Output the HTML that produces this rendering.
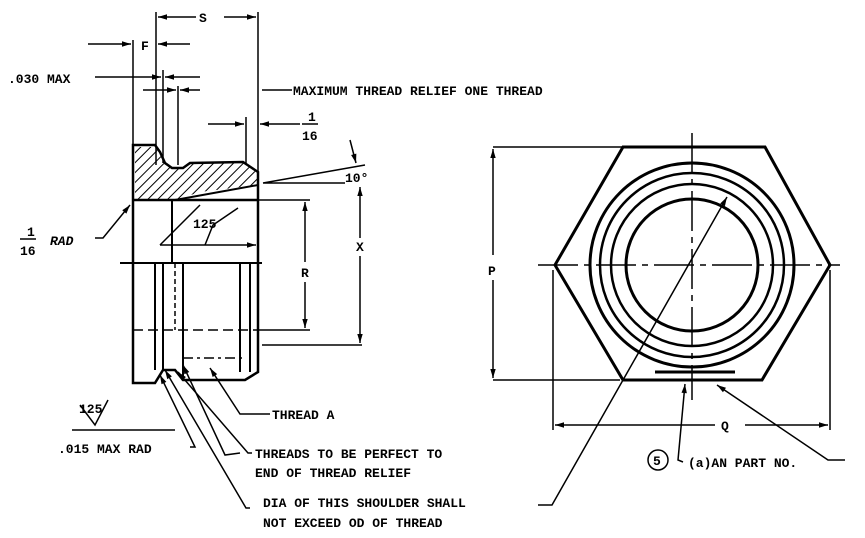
<!DOCTYPE html>
<html><head><meta charset="utf-8"><style>
html,body{margin:0;padding:0;background:#fff;}
svg{display:block}
text{font-family:"Liberation Mono",monospace;font-weight:bold;font-size:13px;fill:#000}
</style></head><body>
<svg width="865" height="538" viewBox="0 0 865 538" xmlns="http://www.w3.org/2000/svg">
<defs>
<pattern id="h" width="7" height="7" patternUnits="userSpaceOnUse" patternTransform="rotate(45)">
<line x1="0" y1="0" x2="0" y2="7" stroke="#000" stroke-width="2"/></pattern>
<marker id="a" viewBox="0 0 10 10" refX="10" refY="5" markerWidth="8" markerHeight="6" orient="auto-start-reverse"><path d="M0,2 L10,5 L0,8z" fill="#000"/></marker>
</defs>
<g fill="none" stroke="#000" stroke-width="1.5">
<!-- S dim -->
<line x1="156" y1="12" x2="156" y2="165"/><line x1="258" y1="12" x2="258" y2="172"/>
<line x1="158" y1="17" x2="196" y2="17" marker-start="url(#a)"/><line x1="224" y1="17" x2="256" y2="17" marker-end="url(#a)"/>
<!-- F -->
<line x1="133" y1="40" x2="133" y2="145"/>
<line x1="88" y1="44" x2="131" y2="44" marker-end="url(#a)"/><line x1="158" y1="44" x2="190" y2="44" marker-start="url(#a)"/>
<!-- .030 -->
<line x1="163" y1="70" x2="163" y2="163"/><line x1="178" y1="86" x2="178" y2="165"/>
<line x1="95" y1="77" x2="161" y2="77" marker-end="url(#a)"/><line x1="165" y1="77" x2="200" y2="77" marker-start="url(#a)"/>
<!-- max thread relief -->
<line x1="143" y1="90" x2="176" y2="90" marker-end="url(#a)"/><line x1="180" y1="90" x2="200" y2="90" marker-start="url(#a)"/>
<line x1="262" y1="90" x2="292" y2="90"/>
<!-- 1/16 -->
<line x1="246" y1="117" x2="246" y2="165"/>
<line x1="208" y1="124" x2="244" y2="124" marker-end="url(#a)"/><line x1="300" y1="124" x2="260" y2="124" marker-end="url(#a)"/>
<!-- body -->
<path d="M133,145 L155,145 L160,152 L165,163 L172,168 L183,168 L190,163 L243,162 L258,172 L258,372 L245,380 L183,380 L175,370 L163,370 L155,383 L133,383 Z" stroke-width="2.5"/>
<path d="M135,147 L155,147 L165,163 L172,168 L183,168 L190,163 L243,163 L257,173 L257,185 L200,192 L175,200 L135,200 Z" fill="url(#h)" stroke="none"/>
<line x1="133" y1="200" x2="258" y2="200" stroke-width="2.5"/>
<line x1="175" y1="200" x2="258" y2="185" stroke-width="2"/>
<line x1="172" y1="200" x2="172" y2="263" stroke-width="2"/>
<line x1="160" y1="245" x2="256" y2="245" marker-end="url(#a)"/>
<path d="M160,245 L200,205 M205,245 L213,225 L238,208"/>
<line x1="120" y1="263" x2="262" y2="263" stroke-width="2"/>
<line x1="155" y1="263" x2="155" y2="370" stroke-width="2"/>
<line x1="163" y1="263" x2="163" y2="370" stroke-width="2"/>
<line x1="175" y1="263" x2="175" y2="330" stroke-dasharray="5,3"/>
<line x1="183" y1="263" x2="183" y2="380" stroke-width="2"/>
<line x1="240" y1="263" x2="240" y2="372" stroke-width="2"/>
<line x1="250" y1="263" x2="250" y2="372" stroke-width="2"/>
<line x1="133" y1="330" x2="258" y2="330" stroke-dasharray="10,5"/>
<line x1="183" y1="358" x2="245" y2="358" stroke-dasharray="10,4,3,4"/>
<!-- R X -->
<line x1="258" y1="200" x2="310" y2="200"/><line x1="258" y1="330" x2="310" y2="330"/>
<line x1="305" y1="202" x2="305" y2="262" marker-start="url(#a)"/><line x1="305" y1="282" x2="305" y2="328" marker-end="url(#a)"/>
<line x1="262" y1="345" x2="362" y2="345"/>
<line x1="360" y1="187" x2="360" y2="238" marker-start="url(#a)"/><line x1="360" y1="256" x2="360" y2="343" marker-end="url(#a)"/>
<!-- 10deg -->
<path d="M263,183 L365,165 M263,183 L345,183"/>
<line x1="350" y1="140" x2="356" y2="163" marker-end="url(#a)"/>
<!-- 1/16 rad leader -->
<path d="M95,238 L103,238 L130,205" marker-end="url(#a)"/>
<!-- lower leaders -->
<path d="M72,430 L175,430"/>
<path d="M80,405 L95,425 L108,400"/>
<path d="M190,447 L195,447 L160,375" marker-end="url(#a)"/>
<path d="M250,508 L246,508 L165,370" marker-end="url(#a)"/>
<path d="M252,453 L248,453 L178,372" marker-end="url(#a)"/>
<path d="M270,414 L240,414 L210,368" marker-end="url(#a)"/>
<path d="M240,453 L225,455 L183,365" marker-end="url(#a)"/>
<!-- right view -->
<polygon points="623,147 765,147 830,265 762,380 623,380 555,265" stroke-width="3"/>
<circle cx="692" cy="265" r="102" stroke-width="3"/>
<circle cx="692" cy="265" r="92" stroke-width="2.5"/>
<circle cx="692" cy="265" r="81" stroke-width="2.5"/>
<circle cx="692" cy="265" r="66" stroke-width="3"/>
<line x1="538" y1="265" x2="840" y2="265" stroke-dasharray="40,6,6,6"/>
<line x1="692" y1="133" x2="692" y2="400" stroke-dasharray="40,6,6,6"/>
<line x1="493" y1="147" x2="623" y2="147"/><line x1="493" y1="380" x2="620" y2="380"/>
<line x1="493" y1="149" x2="493" y2="255" marker-start="url(#a)"/><line x1="493" y1="280" x2="493" y2="378" marker-end="url(#a)"/>
<line x1="553" y1="270" x2="553" y2="430"/><line x1="830" y1="270" x2="830" y2="430"/>
<line x1="555" y1="425" x2="715" y2="425" marker-start="url(#a)"/><line x1="745" y1="425" x2="828" y2="425" marker-end="url(#a)"/>
<path d="M538,505 L552,505 L727,197" marker-end="url(#a)"/>
<line x1="655" y1="372" x2="735" y2="372" stroke-width="3"/>
<path d="M683,462 L678,460 L685,384" marker-end="url(#a)"/>
<path d="M845,460 L828,460 L717,385" marker-end="url(#a)"/>
<circle cx="658" cy="460" r="10"/>
</g>
<g>
<text x="199" y="22">S</text>
<text x="141" y="50">F</text>
<text x="8" y="83">.030 MAX</text>
<text x="293" y="95" font-size="12">MAXIMUM THREAD RELIEF ONE THREAD</text>
<text x="308" y="121">1</text><line x1="302" y1="124" x2="318" y2="124" stroke="#000" stroke-width="1.5"/><text x="302" y="140">16</text>
<text x="345" y="182">10°</text>
<text x="27" y="236">1</text><line x1="20" y1="239" x2="36" y2="239" stroke="#000" stroke-width="1.5"/><text x="20" y="255">16</text>
<text x="50" y="245" font-style="italic">RAD</text>
<text x="193" y="228">125</text>
<text x="356" y="251">X</text>
<text x="301" y="277">R</text>
<text x="79" y="413">125</text>
<text x="58" y="453">.015 MAX RAD</text>
<text x="272" y="419" font-size="12">THREAD A</text>
<text x="255" y="458" font-size="12">THREADS TO BE PERFECT TO</text>
<text x="255" y="477" font-size="12">END OF THREAD RELIEF</text>
<text x="263" y="507" font-size="12">DIA OF THIS SHOULDER SHALL</text>
<text x="263" y="527" font-size="12">NOT EXCEED OD OF THREAD</text>
<text x="488" y="275">P</text>
<text x="721" y="430">Q</text>
<text x="653" y="465">5</text>
<text x="688" y="467" font-size="12">(a)AN PART NO.</text>
</g>
</svg>
</body></html>
